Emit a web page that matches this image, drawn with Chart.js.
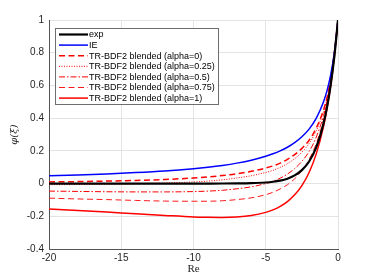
<!DOCTYPE html>
<html>
<head>
<meta charset="utf-8">
<script src="https://cdn.jsdelivr.net/npm/chart.js@4.4.0/dist/chart.umd.min.js"></script>
<style>
html, body { margin: 0; padding: 0; background: #fff; }
</style>
</head>
<body>
<canvas id="phiChart" width="374" height="280"></canvas>
<script>
// Re axis samples
var xs = [-20, -18, -16, -14, -12, -10, -9, -8, -7, -6, -5, -4.5, -4, -3.5, -3, -2.5, -2, -1.5, -1, -0.75, -0.5, -0.25, 0];

var expVals = [0, 0, 0, 0, 0, 0, 0.0001, 0.0003, 0.0009, 0.0025, 0.0067, 0.011, 0.018, 0.030, 0.050, 0.082, 0.135, 0.223, 0.368, 0.472, 0.607, 0.779, 1];
var ieVals = [0.048, 0.053, 0.059, 0.067, 0.077, 0.091, 0.100, 0.111, 0.125, 0.143, 0.167, 0.182, 0.200, 0.222, 0.250, 0.286, 0.333, 0.400, 0.500, 0.571, 0.667, 0.800, 1];
var alpha0 = [0.010, 0.012, 0.015, 0.019, 0.025, 0.034, 0.040, 0.049, 0.060, 0.075, 0.095, 0.108, 0.125, 0.148, 0.177, 0.215, 0.265, 0.340, 0.450, 0.530, 0.645, 0.800, 1];
var alpha025 = [-0.007, -0.006, -0.004, -0.001, 0.003, 0.010, 0.015, 0.023, 0.034, 0.048, 0.068, 0.081, 0.099, 0.122, 0.152, 0.192, 0.245, 0.324, 0.440, 0.523, 0.641, 0.798, 1];
var alpha05 = [-0.046, -0.048, -0.050, -0.051, -0.051, -0.049, -0.046, -0.041, -0.032, -0.020, 0.000, 0.014, 0.033, 0.058, 0.091, 0.136, 0.196, 0.285, 0.415, 0.507, 0.630, 0.792, 1];
var alpha075 = [-0.089, -0.094, -0.098, -0.103, -0.107, -0.108, -0.108, -0.105, -0.098, -0.087, -0.068, -0.053, -0.033, -0.007, 0.029, 0.079, 0.147, 0.246, 0.390, 0.490, 0.620, 0.787, 1];
var alpha1 = [-0.155, -0.164, -0.174, -0.185, -0.195, -0.204, -0.206, -0.207, -0.204, -0.195, -0.176, -0.161, -0.139, -0.110, -0.069, -0.012, 0.068, 0.183, 0.350, 0.463, 0.603, 0.778, 1];

var xTicks = [-20, -15, -10, -5, 0];
var yTicks = [-0.4, -0.2, 0, 0.2, 0.4, 0.6, 0.8, 1];

function pts(vals) {
    return vals.map(function(v, i) {
        return {x: xs[i], y: v}
    })
}

function line(label, vals, color, width, dash) {
    return {
        label: label,
        data: pts(vals),
        borderColor: color,
        borderWidth: width,
        borderDash: dash,
        pointRadius: 0,
        fill: false,
        cubicInterpolationMode: 'monotone'
    }
}

// legend drawn inside the plot, MATLAB style
var legendBox = {
    id: 'legendBox',
    afterDatasetsDraw: function(chart) {
        var ctx = chart.ctx;
        var x0 = 55.5, y0 = 28.5, w = 163, h = 76;
        ctx.save();
        ctx.fillStyle = '#fff';
        ctx.fillRect(x0, y0, w, h);
        ctx.strokeStyle = '#6e6e6e';
        ctx.lineWidth = 1;
        ctx.strokeRect(x0, y0, w, h);
        ctx.font = '9px "Liberation Sans", Arial, sans-serif';
        ctx.textBaseline = 'middle';
        chart.data.datasets.forEach(function(ds, i) {
            var y = y0 + 6 + i * 10.6;
            ctx.beginPath();
            ctx.setLineDash(ds.borderDash || []);
            ctx.strokeStyle = ds.borderColor;
            ctx.lineWidth = ds.borderWidth;
            ctx.moveTo(59, y);
            ctx.lineTo(88, y);
            ctx.stroke();
            ctx.setLineDash([]);
            ctx.fillStyle = '#000';
            ctx.fillText(ds.label, 89, y + 0.5);
        });
        ctx.restore();
    }
};

var tickFont = {family: '"Liberation Sans", Arial, sans-serif', size: 10};

new Chart(document.getElementById('phiChart').getContext('2d'), {
    type: 'line',
    data: {
        datasets: [
            line('exp', expVals, '#000000', 2.2, []),
            line('IE', ieVals, '#0000ff', 1.5, []),
            line('TR-BDF2 blended (alpha=0)', alpha0, '#ff0000', 1.5, [6, 3.5]),
            line('TR-BDF2 blended (alpha=0.25)', alpha025, '#ff0000', 1, [1, 1.5]),
            line('TR-BDF2 blended (alpha=0.5)', alpha05, '#ff0000', 1, [6, 2, 1.5, 2]),
            line('TR-BDF2 blended (alpha=0.75)', alpha075, '#ff1a1a', 1, [6, 3.5]),
            line('TR-BDF2 blended (alpha=1)', alpha1, '#ff0000', 1.5, [])
        ]
    },
    options: {
        responsive: false,
        devicePixelRatio: 1,
        animation: false,
        layout: {padding: {left: 0, right: 36, top: 20, bottom: 0}},
        plugins: {
            legend: {display: false},
            tooltip: {enabled: false}
        },
        scales: {
            x: {
                type: 'linear',
                min: -20,
                max: 0,
                afterFit: function(s) { s.height = 31 },
                afterBuildTicks: function(s) { s.ticks = xTicks.map(function(v) { return {value: v} }) },
                grid: {color: '#e3e3e3', drawTicks: false},
                border: {display: true, color: '#555', width: 1},
                ticks: {
                    padding: 3,
                    color: '#262626',
                    font: tickFont,
                    maxRotation: 0,
                    callback: function(v) { return String(Math.round(v)) }
                },
                title: {
                    display: true,
                    text: 'Re',
                    color: '#262626',
                    font: {family: '"Liberation Serif", "Times New Roman", serif', size: 11},
                    padding: {top: 0, bottom: 4}
                }
            },
            y: {
                min: -0.4,
                max: 1,
                afterFit: function(s) { s.width = 49 },
                afterBuildTicks: function(s) { s.ticks = yTicks.map(function(v) { return {value: v} }) },
                grid: {color: '#e3e3e3', drawTicks: false},
                border: {display: true, color: '#555', width: 1},
                ticks: {
                    padding: 5,
                    color: '#262626',
                    font: tickFont,
                    callback: function(v) { return String(Math.round(v * 10) / 10) }
                },
                title: {
                    display: true,
                    text: 'φ(ξ)',
                    color: '#262626',
                    font: {family: '"DejaVu Serif", serif', size: 10, style: 'italic'},
                    padding: {top: 8, bottom: 0}
                }
            }
        }
    },
    plugins: [legendBox]
});
</script>
</body>
</html>
